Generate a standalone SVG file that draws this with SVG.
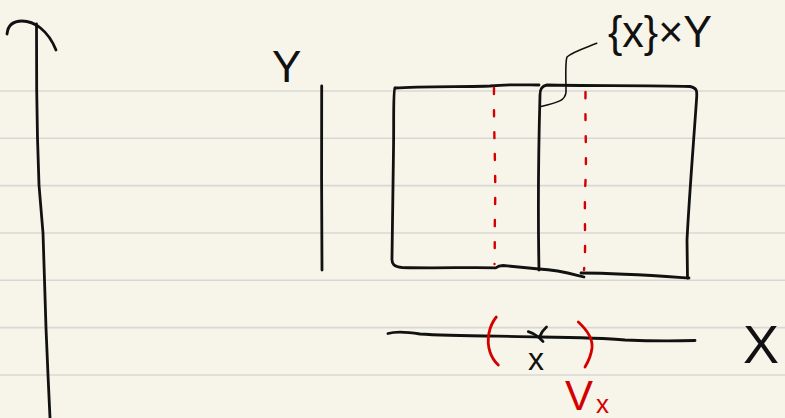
<svg xmlns="http://www.w3.org/2000/svg" width="785" height="418" viewBox="0 0 785 418">
  <style>
    .rule { stroke: #d9d7d5; stroke-width: 1.6; }
    .ink { fill: none; stroke: #111; stroke-width: 2.8; stroke-linecap: round; stroke-linejoin: round; }
    .thin { fill: none; stroke: #111; stroke-width: 1.6; stroke-linecap: round; stroke-linejoin: round; }
    .red { fill: none; stroke: #d40000; stroke-width: 2.8; stroke-linecap: round; stroke-linejoin: round; }
    .dash { fill: none; stroke: #d40000; stroke-width: 2.4; stroke-linecap: round; stroke-dasharray: 6 16; }
    .lbl { font-family: "Liberation Sans", "DejaVu Sans", sans-serif; fill: #111; }
    .rlbl { font-family: "Liberation Sans", "DejaVu Sans", sans-serif; fill: #d40000; }
  </style>

  <!-- paper -->
  <rect width="785" height="418" fill="#f7f5e9"/>
  <g id="ruling">
    <line class="rule" x1="0" y1="91" x2="785" y2="91"/>
    <line class="rule" x1="0" y1="138.3" x2="785" y2="138.3"/>
    <line class="rule" x1="0" y1="185.6" x2="785" y2="185.6"/>
    <line class="rule" x1="0" y1="233" x2="785" y2="233"/>
    <line class="rule" x1="0" y1="280.3" x2="785" y2="280.3"/>
    <line class="rule" x1="0" y1="327.6" x2="785" y2="327.6"/>
    <line class="rule" x1="0" y1="375" x2="785" y2="375"/>
  </g>

  <!-- vertical axis with its hook on top -->
  <g id="left-axis">
    <path class="ink" d="M7 34 C8 24 14 21 22 21 C34 21 48 30 56 50"/>
    <path class="ink" d="M36.5 24 L36.7 90 L37.5 138 L39 185 L43 233 L44.5 280 L46 328 L48 375 L50 418"/>
  </g>

  <!-- Y fibre -->
  <g id="y-axis">
    <text class="lbl" x="272" y="82" font-size="44">Y</text>
    <path class="ink" d="M321.7 86 L321.6 180 L322 270"/>
  </g>

  <!-- product rectangle split into two columns -->
  <g id="product">
    <path class="ink" d="M395 88 C393 90 394 120 393.5 150 C393 190 392.5 230 392 258 C391.5 264 394 267 402 267.5 C440 268.5 470 267 496 267.8 C498 266 500 265.5 503 265.5 L539 269"/>
    <path class="ink" d="M395 88 C420 86 470 87 490 86 C510 84 528 85 539 85"/>
    <path class="ink" d="M539 270 C538 220 538.5 150 540 95 C540 90 541 86 547 85 C590 86 650 85 690 86.5 C698 88 697 92 696.5 100 C693 150 689 200 687 240 L687.5 278"/>
    <path class="ink" d="M539 269 C560 270 572 274 584 277"/>
    <path class="ink" d="M581 273 C620 273 660 276 689 278"/>
    <path class="dash" d="M494 88 C493.5 130 496 170 495 210 C494.5 240 495 255 494.5 264"/>
    <path class="dash" d="M585.5 92 C585 130 587 160 585 190 C584.5 230 586 250 584 270"/>
  </g>

  <!-- slice label -->
  <g id="slice-label">
    <text class="lbl" x="608" y="47" font-size="44" textLength="104" lengthAdjust="spacingAndGlyphs">{x}×Y</text>
  </g>

  <!-- base axis X with the point x -->
  <g id="x-axis">
    <path class="ink" d="M388 333.5 C396 331 408 332 420 334 C450 336 500 336 540 337 C580 337.5 605 338 625 340 C650 341 675 341 695 340.5"/>
    <text class="lbl" x="743" y="363" font-size="54">X</text>
    <path class="ink" d="M528.3 331.7 C533 333 536 335 538.5 337 L543 341.5"/>
    <path class="ink" d="M546.5 327 C543 330 541 333 539.5 337"/>
    <text class="lbl" x="528" y="370" font-size="32">x</text>
  </g>

  <!-- neighbourhood V_x -->
  <g id="neighbourhood">
    <path class="red" d="M496.3 317 C489 326 486 340 490 352 C492 358 495 362 498.3 365"/>
    <path class="red" d="M578.3 322 C586 329 593 338 592 348 C591 356 588 362 585 367"/>
    <text class="rlbl" x="565" y="410" font-size="42">V</text>
    <text class="rlbl" x="596" y="413" font-size="26">x</text>
  </g>

  <!-- connectors -->
  <g id="connectors">
    <path class="thin" d="M596.7 43.3 C585 48 572 52 567 57 C565 62 566 80 566 92 C565.5 100 560 102 540 106.7"/>
  </g>
</svg>
